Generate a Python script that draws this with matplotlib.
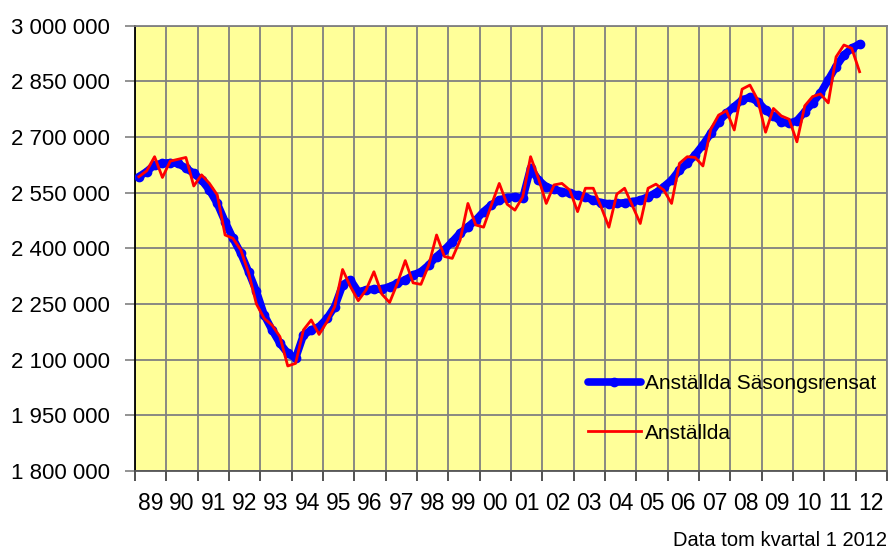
import numpy as np
import matplotlib.pyplot as plt

plt.rcParams['font.family'] = ['Liberation Sans Narrow', 'Liberation Sans', 'DejaVu Sans']

# quarterly data 1989 Q1 - 2012 Q1
year_labels = ['89', '90', '91', '92', '93', '94', '95', '96', '97', '98', '99', '00',
               '01', '02', '03', '04', '05', '06', '07', '08', '09', '10', '11', '12']

sasongsrensat = [
    2593, 2607, 2625, 2629, 2631, 2629, 2616, 2602, 2584, 2557, 2521, 2472,
    2427, 2387, 2337, 2284, 2220, 2180, 2144, 2117, 2104, 2166, 2180, 2189,
    2211, 2243, 2301, 2315, 2283, 2288, 2290, 2290, 2297, 2306, 2315, 2328,
    2337, 2355, 2378, 2396, 2418, 2441, 2458, 2476, 2499, 2517, 2530, 2537,
    2539, 2535, 2616, 2584, 2566, 2559, 2553, 2548, 2544, 2538, 2530, 2523,
    2520, 2521, 2523, 2526, 2530, 2539, 2550, 2566, 2584, 2611, 2629, 2652,
    2679, 2710, 2741, 2764, 2782, 2800, 2807, 2795, 2773, 2757, 2741, 2737,
    2744, 2768, 2792, 2818, 2854, 2890, 2921, 2939, 2951,
]

anstallda = [
    2593, 2609, 2647, 2591, 2635, 2640, 2645, 2568, 2598, 2575, 2544, 2436,
    2427, 2396, 2334, 2250, 2211, 2193, 2162, 2083, 2090, 2180, 2207, 2168,
    2202, 2243, 2343, 2297, 2259, 2288, 2337, 2277, 2254, 2306, 2367, 2307,
    2303, 2355, 2436, 2378, 2373, 2422, 2521, 2463, 2457, 2517, 2575, 2519,
    2503, 2539, 2647, 2589, 2521, 2571, 2575, 2557, 2499, 2562, 2562, 2512,
    2457, 2546, 2562, 2515, 2467, 2562, 2573, 2557, 2521, 2629, 2647, 2645,
    2622, 2721, 2759, 2771, 2719, 2829, 2840, 2800, 2713, 2777, 2757, 2748,
    2687, 2784, 2809, 2816, 2792, 2916, 2948, 2939, 2876,
]

sa = np.array(sasongsrensat) * 1000
an = np.array(anstallda) * 1000
x = np.arange(len(sa)) + 0.5

fig = plt.figure(figsize=(8.96, 5.56), dpi=100)
ax = fig.add_axes([135 / 896, 85 / 556, 752 / 896, 445.3 / 556])
ax.set_facecolor('#FFFF99')

ax.plot(x, sa, color='#0000FF', lw=5.5, marker='o', ms=6, mec='#0000FF',
        solid_capstyle='round', label='Anställda Säsongsrensat', zorder=3)
ax.plot(x, an, color='#FF0000', lw=2, label='Anställda', zorder=4)

ax.set_xlim(0, 96)
ax.set_ylim(1800000, 3000000)

yt = np.arange(1800000, 3000001, 150000)
ax.set_yticks(yt)
ax.set_yticklabels([f'{v:,}'.replace(',', ' ') for v in yt], fontsize=16)

ax.set_xticks(np.arange(0, 97, 4))
ax.set_xticklabels([])
ax.set_xticks(np.arange(2, 96, 4), minor=True)
ax.set_xticklabels(year_labels, minor=True, fontsize=16.5)
ax.tick_params(axis='x', which='minor', length=0, pad=15)
ax.tick_params(axis='x', which='major', length=7, width=1.2, color='#333333')
ax.tick_params(axis='y', length=7, width=1.2, color='#808080', pad=11)

ax.grid(True, which='major', color='#808080', lw=1.3)
ax.set_axisbelow(True)
for side in ['top', 'right']:
    ax.spines[side].set_color('#808080')
    ax.spines[side].set_linewidth(1.3)
ax.spines['left'].set_color('black')
ax.spines['bottom'].set_color('#555555')
ax.spines['left'].set_linewidth(1.3)
ax.spines['bottom'].set_linewidth(1.3)

leg = ax.legend(loc='upper left', bbox_to_anchor=(578 / 896, 1 - 364 / 556),
                bbox_transform=fig.transFigure, frameon=False, fontsize=15,
                handlelength=2.5, handletextpad=0.2, labelspacing=1.45,
                borderpad=0)

fig.text(887 / 896, 6 / 556, 'Data tom kvartal 1 2012', ha='right', va='bottom',
         fontsize=14.5)

fig.savefig('out.png', dpi=100)
